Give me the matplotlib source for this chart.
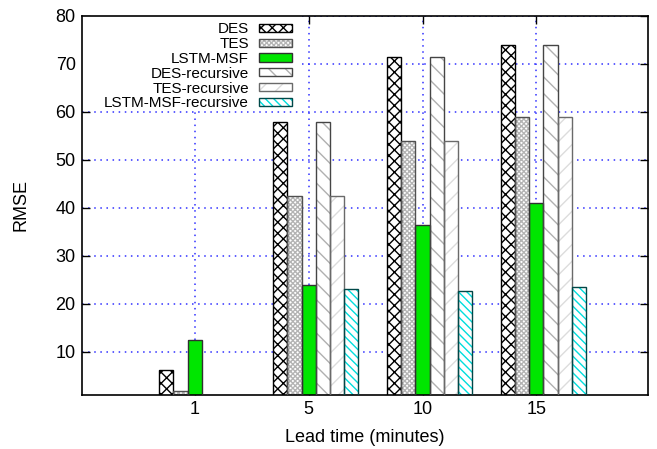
import matplotlib
matplotlib.use('Agg')
import matplotlib.pyplot as plt
from matplotlib.patches import Patch, Rectangle
from matplotlib.legend_handler import HandlerTuple
import numpy as np

plt.rcParams['font.family'] = ['Liberation Sans', 'DejaVu Sans']
plt.rcParams['hatch.linewidth'] = 1.0

# lead times (minutes) and RMSE per method
lead_times = ['1', '5', '10', '15']
methods = ['DES', 'TES', 'LSTM-MSF', 'DES-recursive', 'TES-recursive', 'LSTM-MSF-recursive']
des = [6.2, 58.0, 71.5, 74.0]
tes = [1.8, 42.5, 54.0, 59.0]
lstm_msf = [12.5, 24.0, 36.5, 41.0]
des_rec = [np.nan, 58.0, 71.5, 74.0]
tes_rec = [np.nan, 42.5, 54.0, 59.0]
lstm_msf_rec = [np.nan, 23.0, 22.7, 23.5]
series = [des, tes, lstm_msf, des_rec, tes_rec, lstm_msf_rec]

# (face, hatch, hatch colour, outline)
styles = [
    ('white', 'xxx', 'black', 'black'),
    ('white', 'xxxxxxx', '#b4b4b4', '#505050'),
    ('#00e600', '', '#00e600', '#303030'),
    ('white', '\\\\', '#b0b0b0', '#454545'),
    ('white', '//', '#dcdcdc', '#6a6a6a'),
    ('white', '\\\\\\\\', '#00dede', '#004848'),
]

fig = plt.figure(figsize=(6.57, 4.49), dpi=100)
ax = fig.add_axes([0.1248, 0.1203, 0.8615, 0.8441])

x = np.arange(len(lead_times))
w = 0.1245
handles = []
for k, (vals, (fc, hatch, hc, ec)) in enumerate(zip(series, styles)):
    pos = x + (k - 2) * w
    v = np.array(vals, dtype=float)
    ok = ~np.isnan(v)
    ax.bar(pos[ok], v[ok], w, facecolor=fc, hatch=hatch, edgecolor=hc,
           linewidth=0, zorder=2)
    ax.bar(pos[ok], v[ok], w, fill=False, edgecolor=ec, linewidth=1.0, zorder=3)
    h1 = Patch(facecolor=fc, hatch=hatch, edgecolor=hc, linewidth=0)
    h2 = Patch(fill=False, edgecolor=ec, linewidth=1.0)
    handles.append((h1, h2))

ax.set_xlim(-0.99, 3.98)
ax.set_ylim(1, 80)
ax.set_xticks(x)
ax.set_xticklabels(lead_times)
ax.set_yticks(np.arange(10, 81, 10))
ax.tick_params(direction='in', length=6, width=1, top=True, right=True,
               labelsize=13, pad=4.5)
for s in ax.spines.values():
    s.set_linewidth(1.2)

ax.grid(True, color='#3030ff', linestyle=(0, (1, 3)), linewidth=1.1)
ax.set_axisbelow(True)

# white key area hides the grid behind the legend
ax.add_patch(Rectangle((0, 0.755), 0.385, 0.245, transform=ax.transAxes,
                       facecolor='white', edgecolor='none', zorder=1))

ax.set_xlabel('Lead time (minutes)', fontsize=13, labelpad=8)
ax.set_ylabel('RMSE', fontsize=13, labelpad=19)

leg = ax.legend(handles, methods, handler_map={tuple: HandlerTuple(ndivide=1)},
                loc='upper right', bbox_to_anchor=(0.38, 0.995),
                markerfirst=False, fontsize=11, frameon=False,
                handlelength=2.2, handleheight=0.45, handletextpad=0.65,
                labelspacing=0.05, borderaxespad=0, borderpad=0.3)
leg.set_zorder(5)

fig.savefig('out.png', dpi=100)
